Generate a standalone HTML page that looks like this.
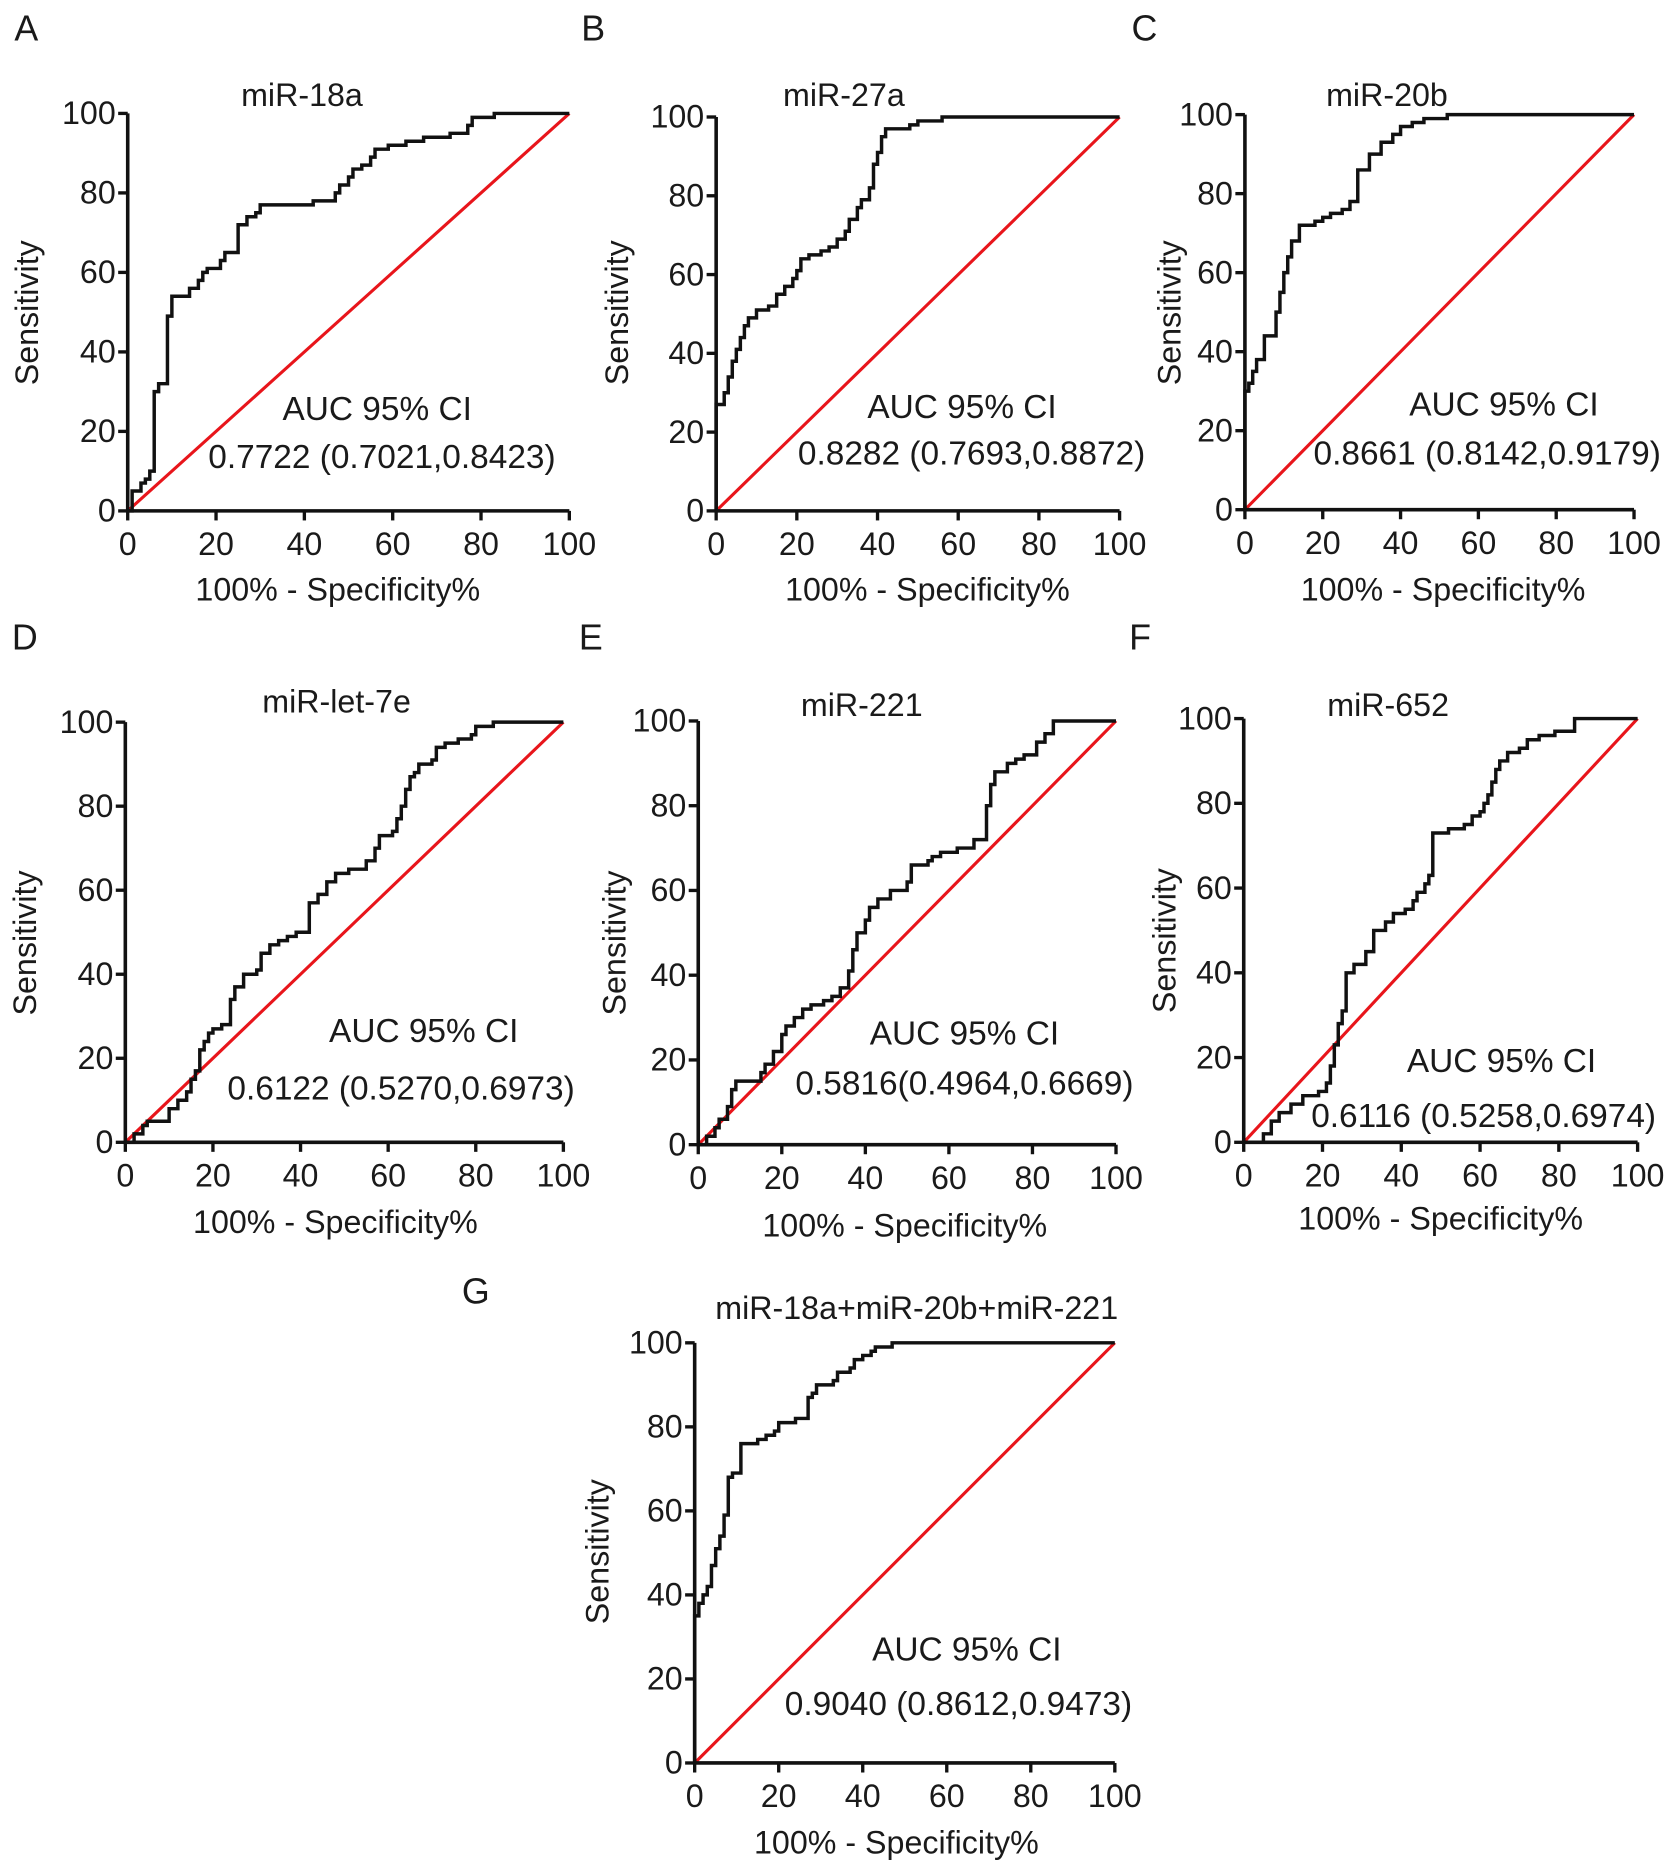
<!DOCTYPE html>
<html><head><meta charset="utf-8">
<style>
html,body{margin:0;padding:0;background:#fff;}
svg{display:block;font-family:"Liberation Sans",Arial,sans-serif;}
text{fill:#1a1a1a;}
</style></head>
<body>
<svg id="fig" width="1677" height="1874" viewBox="0 0 1405 1570" xmlns="http://www.w3.org/2000/svg"></svg>
<script>
// ---- data (100% - specificity %, sensitivity %) ----
const aFpr=[0,1,3,4,5,6,7,9,10,14,16,17,18,21,22,25,27,29,30,42,47,48,50,51,53,55,56,59,63,67,73,77,78,83,100];
const aTpr=[0,5,7,8,10,30,32,49,54,56,58,60,61,63,65,72,74,75,77,78,80,82,84,86,87,89,91,92,93,94,95,97,99,100,100];
const bFpr=[0,0,2,3,4,5,6,7,8,10,13,15,17,19,20,21,23,26,28,30,32,33,35,36,38,39,40,41,42,48,50,56,100];
const bTpr=[0,27,30,34,38,41,44,47,49,51,52,55,57,59,61,64,65,66,67,69,71,74,77,79,82,88,91,95,97,98,99,100,100];
const cFpr=[0,0,1,2,3,5,8,9,10,11,12,14,18,20,22,25,27,29,32,35,38,40,43,46,52,100];
const cTpr=[0,30,32,35,38,44,50,55,60,64,68,72,73,74,75,76,78,86,90,93,95,97,98,99,100,100];
const dFpr=[0,2,4,5,9,10,12,14,15,16,17,18,19,20,22,24,24,25,27,30,31,33,35,37,39,42,42,44,46,48,51,55,55,57,58,61,62,63,64,65,66,67,70,71,73,76,79,80,84,100];
const dTpr=[0,2,4,5,5,8,10,12,15,17,22,24,26,27,28,28,34,37,40,41,45,47,48,49,50,52,57,59,62,64,65,65,67,70,73,74,77,80,84,87,88,90,91,94,95,96,97,99,100,100];
const eFpr=[0,2,4,5,7,8,9,14,15,16,18,20,21,23,25,27,30,32,34,36,37,38,40,41,43,46,50,51,55,56,58,62,66,69,69,70,71,74,76,78,81,83,85,100];
const eTpr=[0,2,4,6,9,13,15,15,17,19,22,26,28,30,32,33,34,35,37,41,46,50,53,56,58,60,62,66,67,68,69,70,72,73,80,85,88,90,91,92,95,97,100,100];
const fFpr=[0,4,5,7,9,12,15,19,21,22,23,24,25,26,28,31,33,36,38,41,43,44,46,47,48,52,56,58,60,61,62,63,64,65,67,70,72,75,79,84,100];
const fTpr=[0,0,2,5,7,9,11,12,14,18,23,28,31,40,42,45,50,52,54,55,57,59,61,63,73,74,75,77,78,80,82,85,88,90,92,93,95,96,97,100,100];
const gFpr=[0,0,1,2,3,4,5,6,7,8,8,9,11,15,17,19,20,24,27,28,29,33,34,37,38,40,42,43,47,100];
const gTpr=[0,35,38,40,42,47,51,54,59,62,68,69,76,77,78,79,81,82,87,88,90,91,93,94,96,97,98,99,100,100];
const ticks=[0,20,40,60,80,100];
const titles=["miR-18a","miR-27a","miR-20b","miR-let-7e","miR-221","miR-652","miR-18a+miR-20b+miR-221"];
const aucLabels=["AUC  95% CI","AUC  95% CI","AUC  95% CI","AUC  95% CI","AUC 95% CI","AUC 95% CI","AUC 95% CI"];
const aucValues=["0.7722 (0.7021,0.8423)","0.8282 (0.7693,0.8872)","0.8661 (0.8142,0.9179)","0.6122 (0.5270,0.6973)","0.5816(0.4964,0.6669)","0.6116 (0.5258,0.6974)","0.9040 (0.8612,0.9473)"];
const letters=["A","B","C","D","E","F","G"];
const series=[[aFpr,aTpr],[bFpr,bTpr],[cFpr,cTpr],[dFpr,dTpr],[eFpr,eTpr],[fFpr,fTpr],[gFpr,gTpr]];

// ---- layout ----
const panels=[
 {x0:107,x1:477,y0:428,y1:95, t:[253,89], a1:[316,352], a2:[320,392], xt:[283,503], yt:[32,262], L:[12,34]},
 {x0:600,x1:938,y0:428,y1:98, t:[707,89], a1:[806,350], a2:[814,389], xt:[777,503], yt:[526,262], L:[487,34]},
 {x0:1043,x1:1369,y0:427,y1:96, t:[1162,89], a1:[1260,348], a2:[1246,389], xt:[1209,503], yt:[989,262], L:[948,34]},
 {x0:105,x1:472,y0:957,y1:605, t:[282,597], a1:[355,873], a2:[336,921], xt:[281,1033], yt:[30,790], L:[10,544]},
 {x0:585,x1:935,y0:959,y1:604, t:[722,600], a1:[808,875], a2:[808,917], xt:[758,1036], yt:[524,790], L:[485,544]},
 {x0:1042,x1:1372,y0:957,y1:602, t:[1163,600], a1:[1258,898], a2:[1243,944], xt:[1207,1030], yt:[985,788], L:[946,544]},
 {x0:582,x1:934,y0:1477,y1:1125, t:[768,1105], a1:[810,1391], a2:[803,1437], xt:[751,1553], yt:[510,1300], L:[387,1092]}
];
const NS="http://www.w3.org/2000/svg";
const svg=document.getElementById('fig');
function mk(tag,attrs,parent){const e=document.createElementNS(NS,tag);for(const k in attrs)e.setAttribute(k,attrs[k]);(parent||svg).appendChild(e);return e;}
function txt(s,x,y,size,anchor,parent){const t=mk('text',{x:x,y:y,'font-size':size,'text-anchor':anchor||'middle'},parent);t.textContent=s;return t;}

panels.forEach((p,i)=>{
  const g=mk('g',{});
  
  
  const sx=v=>p.x0+(p.x1-p.x0)*v/100;
  const sy=v=>p.y0+(p.y1-p.y0)*v/100;
  const L=txt(letters[i],p.L[0],p.L[1],30,'start',g);
  
  
  const T=txt(titles[i],p.t[0],p.t[1],27,'middle',g);
  
  
  const ref=mk('line',{x1:sx(0),y1:sy(0),x2:sx(100),y2:sy(100),stroke:'#e8151b','stroke-width':2.6},g);
  
  
  const [fx,fy]=series[i];
  let d='M'+sx(fx[0])+','+sy(fy[0]);
  for(let k=1;k<fx.length;k++){d+=' L'+sx(fx[k])+','+sy(fy[k-1])+' L'+sx(fx[k])+','+sy(fy[k]);}
  const c=mk('path',{d:d,fill:'none',stroke:'#111','stroke-width':2.9},g);
  
  
  const ax=mk('path',{d:'M'+sx(0)+','+sy(100)+' L'+sx(0)+','+sy(0)+' L'+sx(100)+','+sy(0),fill:'none',stroke:'#111','stroke-width':3},g);
  
  
  ticks.forEach(v=>{
    mk('line',{x1:sx(0)-8,y1:sy(v),x2:sx(0),y2:sy(v),stroke:'#111','stroke-width':2.8},g);
    const yl=txt(v,sx(0)-10,sy(v)+9,27,'end',g);
    
    
    mk('line',{x1:sx(v),y1:sy(0),x2:sx(v),y2:sy(0)+8,stroke:'#111','stroke-width':2.8},g);
    const xl=txt(v,sx(v),sy(0)+37,27,'middle',g);
    
    
  });
  const xt=txt('100% - Specificity%',p.xt[0],p.xt[1],27,'middle',g);
  
  
  const yt=txt('Sensitivity',p.yt[0],p.yt[1],27,'middle',g);
  yt.setAttribute('transform','rotate(-90 '+p.yt[0]+' '+p.yt[1]+')');
  
  
  const a1=txt(aucLabels[i],p.a1[0],p.a1[1],28,'middle',g);
  
  
  const a2=txt(aucValues[i],p.a2[0],p.a2[1],28,'middle',g);
  
  
});
</script>
</body></html>
